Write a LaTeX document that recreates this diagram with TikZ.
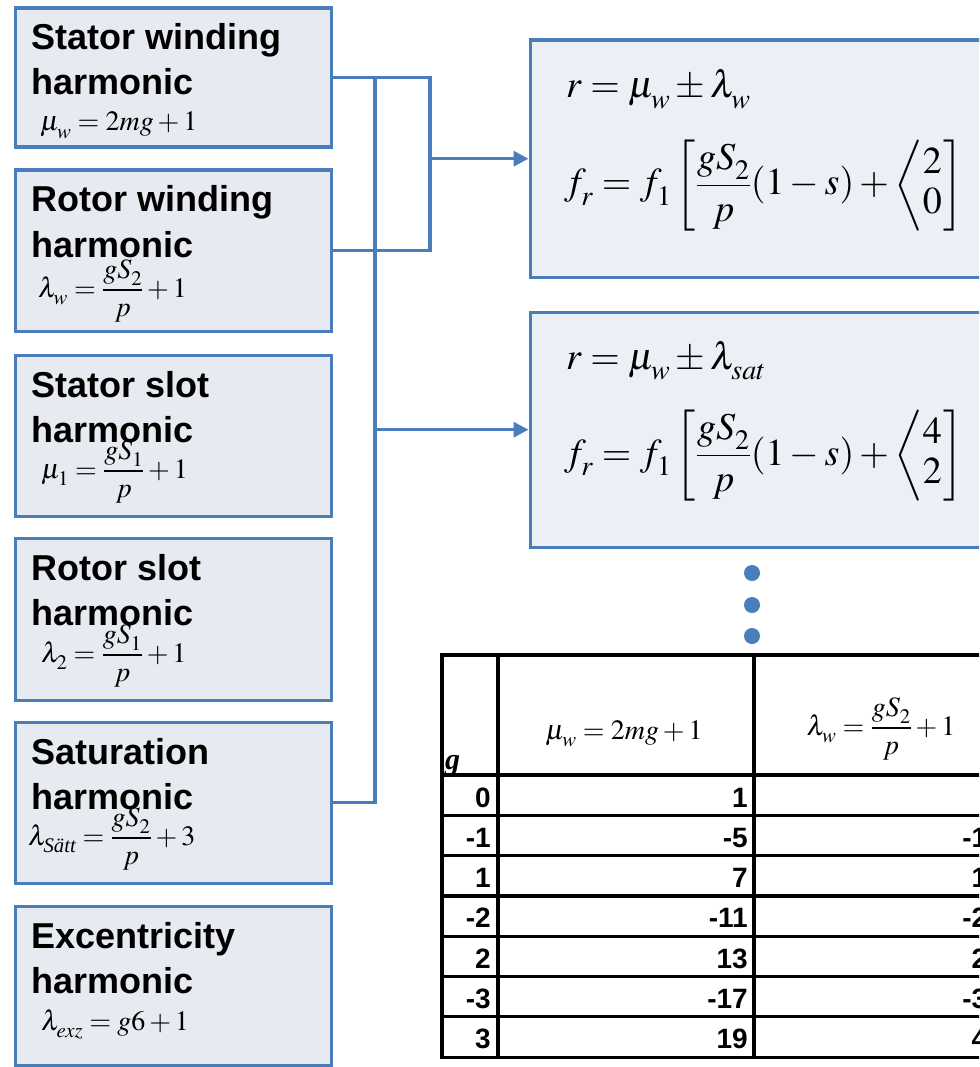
\documentclass[tikz,border=0pt]{standalone}
\usepackage{amsmath}
\usepackage{mathptmx}
\usepackage[no-math]{fontspec}
\setmainfont{Liberation Sans}
\newfontfamily\serifit{Liberation Serif}
\usetikzlibrary{arrows.meta}
\definecolor{frame}{HTML}{4A7EBB}
\definecolor{leftfill}{HTML}{E8EAF1}
\definecolor{rightfill}{HTML}{EBF0F7}
% subscripts set a little lower than TeX's default
\newcommand{\lo}[1]{_{\lower.12em\hbox{$\scriptstyle #1$}}}
\begin{document}
\begin{tikzpicture}[x=1pt,y=-1pt,
  lbox/.style={draw=frame,line width=3.4pt,fill=leftfill,rectangle,inner sep=0pt,anchor=north west,minimum width=316pt},
  rbox/.style={draw=frame,line width=3.4pt,fill=rightfill,rectangle,inner sep=0pt,anchor=north west,minimum width=520pt},
  ltext/.style={anchor=base west,inner sep=0pt,align=left,font=\fontsize{36}{45}\selectfont\bfseries},
  lmath/.style={anchor=base west,inner sep=0pt,font=\fontsize{28}{30}\selectfont},
  rmath/.style={anchor=base west,inner sep=0pt,font=\fontsize{38}{40}\selectfont},
  conn/.style={draw=frame,line width=3.4pt},
  arrowto/.style={-{Triangle[length=15pt,width=15pt]}},
  bigdot/.style={circle,fill=frame,inner sep=0pt,minimum size=16pt},
  tline/.style={line width=3.2pt,black},
  numcell/.style={anchor=base east,inner sep=0pt,font=\fontsize{28}{30}\selectfont\bfseries},
  hmath/.style={anchor=base,inner sep=0pt,font=\fontsize{28}{30}\selectfont},
]
\useasboundingbox (0,0) rectangle (979,1067);
\clip (0,0) rectangle (979,1067);

% harmonic source boxes
\node[lbox,minimum height=139pt] (b1) at (13.5,6.5) {};
\node[lbox,minimum height=161pt] (b2) at (13.5,168.5) {};
\node[lbox,minimum height=161pt] (b3) at (13.5,353.5) {};
\node[lbox,minimum height=162pt] (b4) at (13.5,536.5) {};
\node[lbox,minimum height=161pt] (b5) at (13.5,720.5) {};
\node[lbox,minimum height=159pt] (b6) at (13.5,904.5) {};

% two-line titles, placed by the baseline of their second line
\node[ltext] (t1) at (31.5,95) {Stator winding\\harmonic};
\node[ltext] (t2) at (31.5,257) {Rotor winding\\harmonic};
\node[ltext] (t3) at (31.5,442) {Stator slot\\harmonic};
\node[ltext] (t4) at (31.5,625) {Rotor slot\\harmonic};
\node[ltext] (t5) at (31.5,809) {Saturation\\harmonic};
\node[ltext] (t6) at (31.5,993) {Excentricity\\harmonic};

\node[lmath] (m1) at (40,131) {$\mu\lo{w} = 2mg+1$};
\node[lmath] (m2) at (38,297) {$\lambda\lo{w} = \dfrac{gS\lo{2}}{p}+1$};
\node[lmath] (m3) at (41,478) {$\mu\lo{1} = \dfrac{gS\lo{1}}{p}+1$};
\node[lmath] (m4) at (41,662) {$\lambda\lo{2} = \dfrac{gS\lo{1}}{p}+1$};
\node[lmath] (m5) at (28,845) {$\lambda\lo{\text{\serifit\itshape Sätt}} = \dfrac{gS\lo{2}}{p}+3$};
\node[lmath] (m6) at (41,1030) {$\lambda\lo{exz} = g6+1$};

% resulting rotor-bar harmonics
\node[rbox,minimum height=237pt] (r1) at (528.5,38.5) {};
\node[rbox,minimum height=235pt] (r2) at (528.5,310.5) {};

\node[rmath] (r1a) at (566,98) {$r = \mu\lo{w} \pm \lambda\lo{w}$};
\node[rmath] (r1b) at (564,195) {$f\lo{r} = f\lo{1}\left[\dfrac{gS\lo{2}}{p}(1-s)+\left\langle\begin{matrix}2\\0\end{matrix}\right.\right]$};
\node[rmath] (r2a) at (566,369) {$r = \mu\lo{w} \pm \lambda\lo{sat}$};
\node[rmath] (r2b) at (564,465) {$f\lo{r} = f\lo{1}\left[\dfrac{gS\lo{2}}{p}(1-s)+\left\langle\begin{matrix}4\\2\end{matrix}\right.\right]$};

% connectors
\coordinate (busA) at (430,0);
\coordinate (busB) at (375,0);
\draw[conn] (b1.east) -- (b1.east -| busA) |- (b2.east);
\draw[conn,arrowto] (r1.west -| busA) -- (r1.west);
\draw[conn] (b1.east -| busB) |- (b5.east);
\draw[conn,arrowto] (r2.west -| busB) -- (r2.west);

% continuation dots
\node[bigdot] (d1) at (752,573) {};
\node[bigdot] (d2) at (752,605) {};
\node[bigdot] (d3) at (752,636) {};

% order table
\foreach \yy in {655,775} \draw[tline] (440.4,\yy) -- (1012,\yy);
\foreach \k in {1,...,7} \draw[tline] (440.4,775+40.3*\k) -- (1012,775+40.3*\k);
\foreach \xx in {442,498,754,1009} \draw[tline] (\xx,653.4) -- (\xx,1058.7);

\node[anchor=base west,inner sep=0pt,font=\fontsize{30}{30}\selectfont\serifit\bfseries\itshape] (hg) at (445,769) {g};
\node[hmath] (hm) at (624,739) {$\mu\lo{w} = 2mg+1$};
\node[hmath] (hl) at (881,735) {$\lambda\lo{w} = \dfrac{gS\lo{2}}{p}+1$};

\foreach \gv/\mv/\lv [count=\i from 0] in {0/1/1,-1/-5/-12,1/7/14,-2/-11/-25,2/13/27,-3/-17/-38,3/19/40}{
  \node[numcell] (g\i) at (491,807+40.3*\i) {\gv};
  \node[numcell] (m\i) at (748,807+40.3*\i) {\mv};
  \node[numcell] (l\i) at (1003,807+40.3*\i) {\lv};
}
\end{tikzpicture}
\end{document}
